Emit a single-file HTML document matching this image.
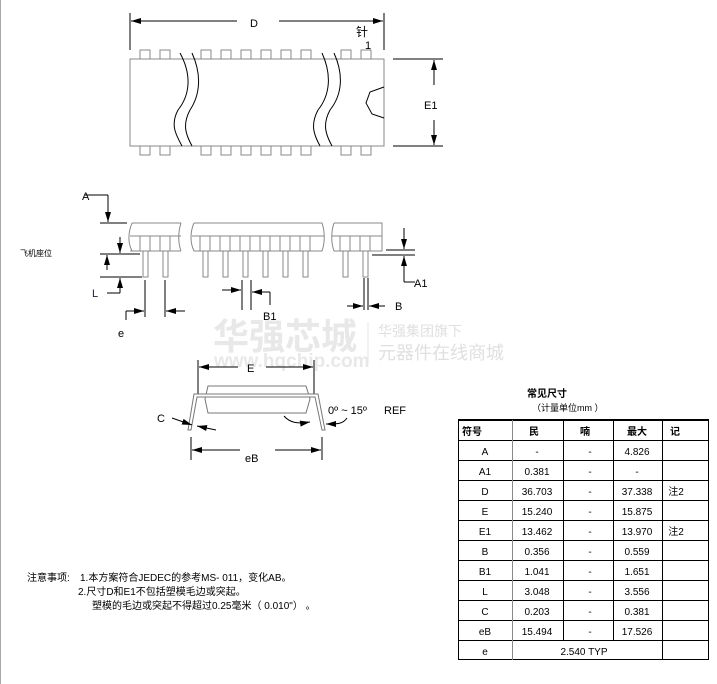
<!DOCTYPE html>
<html><head><meta charset="utf-8"><style>
body{margin:0;background:#fff;}
svg{display:block;font-family:"Liberation Sans","Noto Sans CJK SC",sans-serif;}
</style></head><body>
<svg width="717" height="684" viewBox="0 0 717 684" xmlns="http://www.w3.org/2000/svg">
<defs>
<marker id="ar" markerWidth="10" markerHeight="6" refX="10" refY="3" orient="auto" markerUnits="userSpaceOnUse"><path d="M0,0 L10,3 L0,6 Z" fill="#000"/></marker>
</defs>
<line x1="0.5" y1="0" x2="0.5" y2="684" stroke="#aaa"/>
<g fill="#e6e6e6">
<text x="213" y="349" font-size="36" font-weight="bold" fill="#e8e8e8">华强芯城</text>
<text x="214" y="367" font-size="19" font-weight="bold" fill="#e8e8e8">www.hqchip.com</text>
<line x1="368" y1="322" x2="368" y2="362" stroke="#e6e6e6"/>
<text x="378" y="336" font-size="14" fill="#e0e0e0">华强集团旗下</text>
<text x="378" y="359" font-size="18" fill="#e0e0e0">元器件在线商城</text>
</g>
<g stroke="#888" fill="#fff" stroke-width="1">
<g id="tp">
<rect x="140" y="50" width="10" height="9"/><rect x="160" y="50" width="10" height="9"/>
<rect x="201" y="50" width="10" height="9"/><rect x="221" y="50" width="10" height="9"/><rect x="241" y="50" width="10" height="9"/><rect x="261" y="50" width="10" height="9"/><rect x="281" y="50" width="10" height="9"/><rect x="301" y="50" width="10" height="9"/>
<rect x="341" y="50" width="10" height="9"/><rect x="361" y="50" width="10" height="9"/>
</g>
<use href="#tp" y="96"/>
<rect x="130" y="59" width="254" height="87"/>
</g>
<g stroke="#000" fill="none" stroke-width="1">
<path d="M180,53 C192,75 190,95 178,110 C170,125 176,135 182,146"/>
<path d="M192,53 C202,75 200,95 190,110 C182,125 186,135 192,146"/>
<path d="M322,53 C332,75 330,95 318,110 C310,125 314,135 320,146"/>
<path d="M334,53 C344,75 342,95 330,110 C322,125 326,135 332,146"/>
<path d="M384,87 L370,92 L366,103 L372,114 L384,118"/>
</g>
<g stroke="#000" stroke-width="1" fill="none">
<line x1="130" y1="13" x2="130" y2="50"/><line x1="384" y1="13" x2="384" y2="50"/>
<line x1="237" y1="21" x2="131" y2="21" marker-end="url(#ar)"/>
<line x1="279" y1="21" x2="383" y2="21" marker-end="url(#ar)"/>
<line x1="393" y1="59" x2="443" y2="59"/><line x1="393" y1="146" x2="443" y2="146"/>
<line x1="434" y1="85" x2="434" y2="60" marker-end="url(#ar)"/>
<line x1="434" y1="120" x2="434" y2="145" marker-end="url(#ar)"/>
</g>
<text x="250" y="27" font-size="11">D</text>
<text x="356" y="36" font-size="12">针</text>
<text x="365" y="49" font-size="11">1</text>
<text x="424" y="109" font-size="11">E1</text>
<g stroke="#888" fill="#fff">
<g id="sp">
<rect x="140" y="236" width="10" height="15"/><rect x="143" y="251" width="5" height="26"/>
</g>
<use href="#sp" x="20"/><use href="#sp" x="60"/><use href="#sp" x="80"/><use href="#sp" x="100"/><use href="#sp" x="120"/><use href="#sp" x="140"/><use href="#sp" x="160"/><use href="#sp" x="200"/><use href="#sp" x="220"/>
<path d="M132,223 L181,223 M181,223 C178,232 178,243 181,251 M130,251 L181,251 M132,223 C128,233 128,243 132,251 M130,236 L181,236" fill="none"/>
<path d="M194,223 L322,223 C325,232 325,243 322,251 L194,251 C190,243 190,232 194,223 M192,236 L324,236" fill="none"/>
<path d="M334,223 L382,223 L382,251 L334,251 C331,243 331,232 334,223 M332,236 L382,236" fill="none"/>
</g>
<g stroke="#000" fill="none">
<line x1="85" y1="195" x2="108" y2="195"/><line x1="108" y1="195" x2="108" y2="222" marker-end="url(#ar)"/>
<line x1="100" y1="223" x2="127" y2="223"/>
<line x1="120" y1="237" x2="120" y2="253" marker-end="url(#ar)"/>
<line x1="100" y1="254" x2="140" y2="254"/><line x1="100" y1="277" x2="142" y2="277"/>
<line x1="107" y1="270" x2="107" y2="255" marker-end="url(#ar)"/>
<line x1="120" y1="293" x2="120" y2="278" marker-end="url(#ar)"/><line x1="107" y1="293" x2="120" y2="293"/>
<line x1="145" y1="280" x2="145" y2="317"/><line x1="165" y1="280" x2="165" y2="317"/>
<line x1="126" y1="320" x2="126" y2="311"/><line x1="126" y1="311" x2="144" y2="311" marker-end="url(#ar)"/>
<line x1="185" y1="311" x2="166" y2="311" marker-end="url(#ar)"/>
<line x1="242" y1="280" x2="242" y2="310"/><line x1="251" y1="280" x2="251" y2="310"/>
<line x1="222" y1="290" x2="241" y2="290" marker-end="url(#ar)"/>
<line x1="270" y1="305" x2="270" y2="292"/><line x1="270" y1="292" x2="252" y2="292" marker-end="url(#ar)"/>
<line x1="364" y1="278" x2="364" y2="310"/><line x1="368" y1="278" x2="368" y2="310"/>
<line x1="347" y1="306" x2="363" y2="306" marker-end="url(#ar)"/>
<line x1="385" y1="306" x2="369" y2="306" marker-end="url(#ar)"/>
<line x1="386" y1="250" x2="415" y2="250"/><line x1="372" y1="255" x2="415" y2="255"/>
<line x1="404" y1="228" x2="404" y2="249" marker-end="url(#ar)"/>
<line x1="404" y1="282" x2="404" y2="256" marker-end="url(#ar)"/><line x1="404" y1="282" x2="415" y2="282"/>
</g>
<text x="82" y="200" font-size="11">A</text>
<text x="92" y="297" font-size="11" fill="#223">L</text>
<text x="118" y="337" font-size="11">e</text>
<text x="263" y="320" font-size="11">B1</text>
<text x="395" y="310" font-size="11">B</text>
<text x="414" y="287" font-size="11">A1</text>
<text x="20" y="256" font-size="8">飞机座位</text>
<g stroke="#000" fill="none">
<line x1="198" y1="360" x2="198" y2="395"/><line x1="314" y1="360" x2="314" y2="395"/>
<line x1="238" y1="367" x2="199" y2="367" marker-end="url(#ar)"/>
<line x1="266" y1="367" x2="313" y2="367" marker-end="url(#ar)"/>
</g>
<g stroke="#777" fill="#fff">
<path d="M208,386 L306,386 L310,399 L306,413 L208,413 L205,399 Z"/>
<path d="M191,430 L197,397 L315,397 L322,430 L325,430 L318,394 L194,394 L188,430 Z"/>
</g>
<g stroke="#000" fill="none">
<line x1="191" y1="437" x2="191" y2="460"/><line x1="322" y1="437" x2="322" y2="460"/>
<line x1="240" y1="450" x2="192" y2="450" marker-end="url(#ar)"/>
<line x1="275" y1="450" x2="321" y2="450" marker-end="url(#ar)"/>
<line x1="172" y1="418" x2="192" y2="425" marker-end="url(#ar)"/><line x1="216" y1="430" x2="197" y2="426" marker-end="url(#ar)"/>
<path d="M284,416 C290,423 298,424 310,422" marker-end="url(#ar)"/>
<path d="M347,418 C343,424 338,424 326,424" marker-end="url(#ar)"/>
</g>
<text x="157" y="422" font-size="11">C</text>
<text x="247" y="372" font-size="11">E</text>
<text x="245" y="462" font-size="11">eB</text>
<text x="328" y="414" font-size="11">0º ~ 15º</text>
<text x="384" y="414" font-size="11">REF</text>
<text x="527" y="397" font-size="10" font-weight="bold">常见尺寸</text>
<text x="532" y="411" font-size="9">（计量单位mm ）</text>
<g stroke="#000" fill="none">
<rect x="458.5" y="419.5" width="250" height="240"/>
<line x1="458" y1="420" x2="709" y2="420" stroke-width="2"/>
<line x1="458" y1="440.5" x2="709" y2="440.5"/><line x1="458" y1="460.5" x2="709" y2="460.5"/><line x1="458" y1="480.5" x2="709" y2="480.5"/><line x1="458" y1="500.5" x2="709" y2="500.5"/><line x1="458" y1="520.5" x2="709" y2="520.5"/><line x1="458" y1="540.5" x2="709" y2="540.5"/><line x1="458" y1="560.5" x2="709" y2="560.5"/><line x1="458" y1="580.5" x2="709" y2="580.5"/><line x1="458" y1="600.5" x2="709" y2="600.5"/><line x1="458" y1="620.5" x2="709" y2="620.5"/><line x1="458" y1="640.5" x2="709" y2="640.5"/>
<line x1="512.5" y1="420" x2="512.5" y2="660" stroke="#888"/>
<line x1="563.5" y1="420" x2="563.5" y2="640"/><line x1="613.5" y1="420" x2="613.5" y2="640"/><line x1="662.5" y1="420" x2="662.5" y2="660"/>
</g>
<g font-size="10" text-anchor="middle">
<text x="472" y="435" font-weight="bold">符号</text><text x="534" y="435" font-weight="bold">民</text><text x="585" y="435" font-weight="bold">喃</text><text x="637" y="435" font-weight="bold">最大</text><text x="675" y="435" font-weight="bold">记</text>
<text x="485" y="455">A</text><text x="537" y="455">-</text><text x="590" y="455">-</text><text x="637" y="455">4.826</text>
<text x="485" y="475">A1</text><text x="537" y="475">0.381</text><text x="590" y="475">-</text><text x="637" y="475">-</text>
<text x="485" y="495">D</text><text x="537" y="495">36.703</text><text x="590" y="495">-</text><text x="637" y="495">37.338</text><text x="676" y="495">注2</text>
<text x="485" y="515">E</text><text x="537" y="515">15.240</text><text x="590" y="515">-</text><text x="637" y="515">15.875</text>
<text x="485" y="535">E1</text><text x="537" y="535">13.462</text><text x="590" y="535">-</text><text x="637" y="535">13.970</text><text x="676" y="535">注2</text>
<text x="485" y="555">B</text><text x="537" y="555">0.356</text><text x="590" y="555">-</text><text x="637" y="555">0.559</text>
<text x="485" y="575">B1</text><text x="537" y="575">1.041</text><text x="590" y="575">-</text><text x="637" y="575">1.651</text>
<text x="485" y="595">L</text><text x="537" y="595">3.048</text><text x="590" y="595">-</text><text x="637" y="595">3.556</text>
<text x="485" y="615">C</text><text x="537" y="615">0.203</text><text x="590" y="615">-</text><text x="637" y="615">0.381</text>
<text x="485" y="635">eB</text><text x="537" y="635">15.494</text><text x="590" y="635">-</text><text x="637" y="635">17.526</text>
<text x="485" y="655">e</text><text x="584" y="655">2.540 TYP</text>
</g>
<g font-size="10">
<text x="27" y="581">注意事项:</text>
<text x="80" y="581">1.本方案符合JEDEC的参考MS- 011，变化AB。</text>
<text x="78" y="595">2.尺寸D和E1不包括塑模毛边或突起。</text>
<text x="92" y="609">塑模的毛边或突起不得超过0.25毫米（ 0.010"）  。</text>
</g>
</svg>
</body></html>
